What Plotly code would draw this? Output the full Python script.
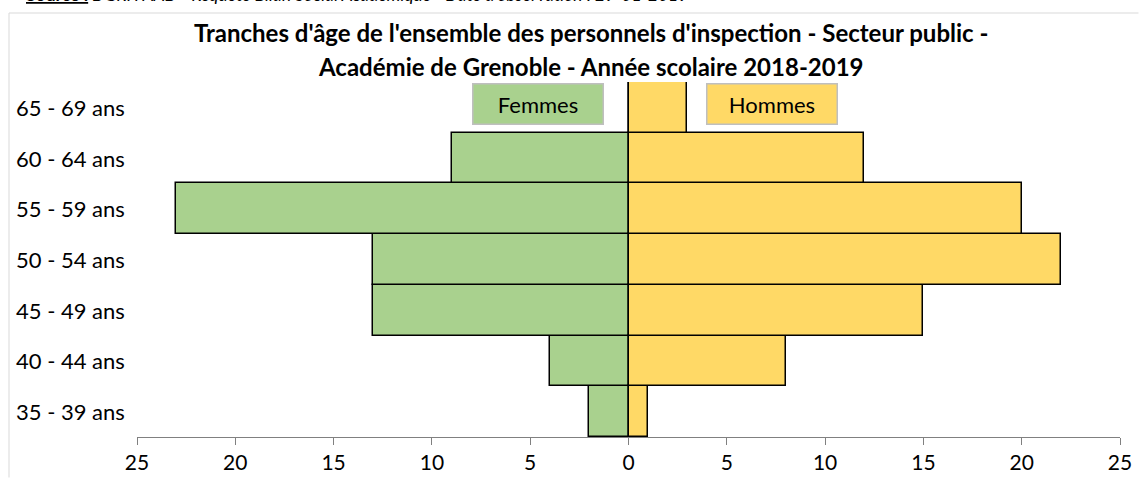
import plotly.graph_objects as go

categories = ["35 - 39 ans", "40 - 44 ans", "45 - 49 ans", "50 - 54 ans",
              "55 - 59 ans", "60 - 64 ans", "65 - 69 ans"]
femmes = [2, 4, 13, 13, 23, 9, 0]
hommes = [1, 8, 15, 22, 20, 12, 3]
tick_vals = [-25, -20, -15, -10, -5, 0, 5, 10, 15, 20, 25]
tick_text = ["25", "20", "15", "10", "5", "0", "5", "10", "15", "20", "25"]

FONT = "Lato"
GREEN = "#A9D18E"
YELLOW = "#FFD966"
TXT = 22

fig = go.Figure()
fig.add_trace(go.Bar(y=categories, x=[-v for v in femmes], orientation="h",
                     name="Femmes", marker=dict(color=GREEN, line=dict(color="black", width=1.5))))
fig.add_trace(go.Bar(y=categories, x=hommes, orientation="h",
                     name="Hommes", marker=dict(color=YELLOW, line=dict(color="black", width=1.5))))

W, H = 1139, 478
L, R, T, B = 137, 19, 82, 41
pw, ph = W - L - R, H - T - B

def px_x(p):
    return (p - L) / pw

def px_y(p):
    return (H - B - p) / ph

annotations = []
for c in categories:
    annotations.append(dict(x=px_x(14), xref="paper", y=c, yref="y", text=c,
                            showarrow=False, xanchor="left", yanchor="middle",
                            font=dict(family=FONT, size=TXT, color="black")))
annotations += [
    dict(x=0.5 * (px_x(472) + px_x(603)), xref="paper", y=px_y(103.5), yref="paper",
         xanchor="center", yanchor="middle",
         text="Femmes", showarrow=False, bgcolor=GREEN, bordercolor="#BFBFBF", borderwidth=1.5,
         width=127, height=37, font=dict(family=FONT, size=TXT, color="black")),
    dict(x=0.5 * (px_x(706) + px_x(837)), xref="paper", y=px_y(103.5), yref="paper",
         xanchor="center", yanchor="middle",
         text="Hommes", showarrow=False, bgcolor=YELLOW, bordercolor="#BFBFBF", borderwidth=1.5,
         width=127, height=37, font=dict(family=FONT, size=TXT, color="black")),
    dict(x=px_x(591), xref="paper", y=px_y(33), yref="paper", xanchor="center", yanchor="middle",
         text="<b>Tranches d'âge de l'ensemble des personnels d'inspection - Secteur public -</b>",
         showarrow=False, font=dict(family=FONT, size=24, color="black")),
    dict(x=px_x(591), xref="paper", y=px_y(66), yref="paper", xanchor="center", yanchor="middle",
         text="<b>Académie de Grenoble - Année scolaire 2018-2019</b>",
         showarrow=False, font=dict(family=FONT, size=24, color="black")),
    dict(x=px_x(24), xref="paper", y=px_y(7), yref="paper", yanchor="bottom", xanchor="left",
         text="<b><u>Source :</u></b><i> DGRH AAD - Requête Bilan Social Académique - Date d'observation : 29-01-2019</i>",
         showarrow=False, font=dict(family=FONT, size=17.5, color="black")),
]

border = dict(color="#D9D9D9", width=1)
shapes = [
    dict(type="line", xref="paper", yref="paper", x0=px_x(9), x1=px_x(1138.5),
         y0=px_y(13), y1=px_y(13), line=border, layer="below"),
    dict(type="line", xref="paper", yref="paper", x0=px_x(9), x1=px_x(9),
         y0=px_y(13), y1=px_y(477.5), line=border, layer="below"),
]

fig.update_layout(
    width=W, height=H,
    margin=dict(l=L, r=R, t=T, b=B, autoexpand=False),
    barmode="relative", bargap=0,
    showlegend=False,
    plot_bgcolor="white", paper_bgcolor="white",
    font=dict(family=FONT, size=TXT, color="black"),
    annotations=annotations,
    shapes=shapes,
    xaxis=dict(range=[-25, 25], tickvals=tick_vals, ticktext=tick_text, automargin=False,
               showgrid=False, zeroline=False, showline=True, linecolor="#808080", linewidth=1,
               ticks="outside", ticklen=7, tickcolor="#808080", ticklabelstandoff=0,
               tickfont=dict(family=FONT, size=21, color="black")),
    yaxis=dict(showticklabels=False, showgrid=False, zeroline=False, showline=False,
               automargin=False, categoryorder="array", categoryarray=categories),
)

fig.write_html(
    "out.html",
    config={"displayModeBar": False},
    post_script=(
        "document.documentElement.style.margin='0';"
        "document.documentElement.style.overflow='hidden';"
        "document.body.style.margin='0';"
        "document.body.style.overflow='hidden';"
    ),
)
